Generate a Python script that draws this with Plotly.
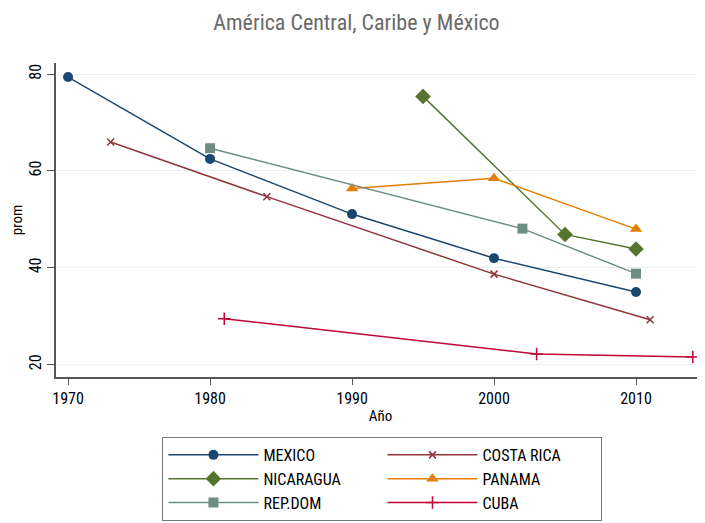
import plotly.graph_objects as go

# Data
mexico_x = [1970, 1980, 1990, 2000, 2010]
mexico_y = [79.4, 62.5, 51.1, 42.0, 35.0]
costa_x = [1973, 1984, 2000, 2011]
costa_y = [66.0, 54.7, 38.7, 29.3]
nica_x = [1995, 2005, 2010]
nica_y = [75.4, 46.9, 43.9]
panama_x = [1990, 2000, 2010]
panama_y = [56.4, 58.5, 48.0]
repdom_x = [1980, 2002, 2010]
repdom_y = [64.7, 48.1, 38.8]
cuba_x = [1981, 2003, 2014]
cuba_y = [29.5, 22.2, 21.6]

y_ticks = [20, 40, 60, 80]
x_ticks = [1970, 1980, 1990, 2000, 2010]

FONT = "Roboto Condensed, Liberation Sans Narrow, sans-serif"

series = [
    ("MEXICO", mexico_x, mexico_y, "#1a476f", "circle", 10),
    ("COSTA RICA", costa_x, costa_y, "#90353b", "x-thin-open", 7),
    ("NICARAGUA", nica_x, nica_y, "#55752f", "diamond", 12),
    ("PANAMA", panama_x, panama_y, "#e37e00", "triangle-up", 11),
    ("REP.DOM", repdom_x, repdom_y, "#6e8e84", "square", 10),
    ("CUBA", cuba_x, cuba_y, "#c10534", "cross-thin-open", 9),
]

fig = go.Figure()
for name, xs, ys, col, sym, sz in series:
    open_sym = sym.endswith("open")
    fig.add_trace(go.Scatter(
        x=xs, y=ys, name=name, mode="lines+markers", cliponaxis=False,
        line=dict(color=col, width=1.5),
        marker=dict(symbol=sym, size=sz, color=col,
                    line=dict(color=col, width=1.5 if open_sym else 0)),
    ))

# the page adds an 8px body margin, so the figure is 8px smaller than the window
fig.update_layout(
    width=697, height=515,
    margin=dict(l=48, r=0, t=55, b=146),
    paper_bgcolor="white", plot_bgcolor="white",
    font=dict(family=FONT, size=15, color="#000"),
    title=dict(text="América Central, Caribe y México", x=0.5, xanchor="center",
               y=0.973, yanchor="middle",
               font=dict(family=FONT, size=22, color="#6a6a6a")),
    showlegend=True,
    legend=dict(orientation="h", x=0.503, xanchor="center", y=-0.191, yanchor="top",
                bgcolor="white", bordercolor="#777777", borderwidth=1,
                entrywidth=114, entrywidthmode="pixels", itemwidth=90,
                font=dict(family=FONT, size=16, color="#000"),
                traceorder="normal"),
)
fig.update_xaxes(
    range=[1969.15, 2014.86], tickvals=x_ticks, ticks="outside", ticklen=6,
    tickcolor="#555", showline=True, linecolor="#555", linewidth=1.5,
    showgrid=False, zeroline=False, automargin=False,
    title=dict(text="Año", font=dict(family=FONT, size=15), standoff=4),
    tickfont=dict(family=FONT, size=16),
)
fig.update_yaxes(
    range=[17.46, 82.3], tickvals=y_ticks, ticks="outside", ticklen=7,
    tickcolor="#555", showline=True, linecolor="#555", linewidth=1.5,
    showgrid=True, gridcolor="#e8f0f2", gridwidth=1, zeroline=False,
    tickangle=-90, automargin=False,
    title=dict(text="prom", font=dict(family=FONT, size=15), standoff=4),
    tickfont=dict(family=FONT, size=16),
)

fig.write_html("out.html")
